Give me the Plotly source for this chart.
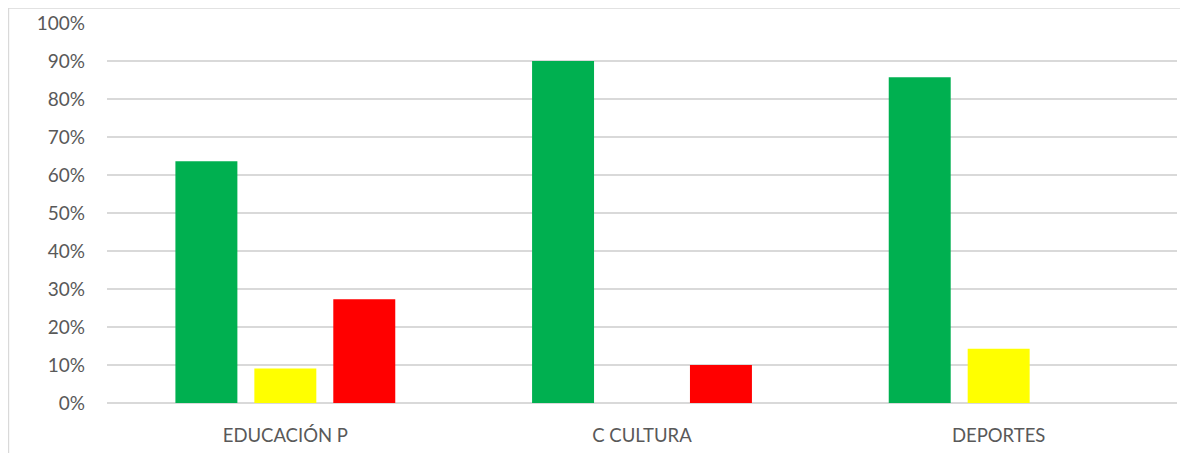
import plotly.graph_objects as go

categories = ["EDUCACIÓN P", "C CULTURA", "DEPORTES"]
verde = [0.636, 0.90, 0.857]
amarillo = [0.091, 0.0, 0.143]
rojo = [0.273, 0.10, 0.0]
y_ticks = [i / 10 for i in range(11)]
y_tick_labels = [f"{i*10}%" for i in range(11)]

fig = go.Figure()
for vals, col, name in [(verde, "#00B050", "Verde"), (amarillo, "#FFFF00", "Amarillo"), (rojo, "#FF0000", "Rojo")]:
    fig.add_trace(go.Bar(x=categories, y=vals, name=name, marker=dict(color=col, line=dict(width=0))))

fig.update_layout(
    width=1188, height=453,
    margin=dict(l=99, r=19, t=15, b=58),
    paper_bgcolor="white", plot_bgcolor="white",
    barmode="group", bargap=0.336, bargroupgap=0.215,
    showlegend=False,
    font=dict(family="Lato", size=19, color="#595959"),
    xaxis=dict(showgrid=False, showline=False, ticks="", ticklabelstandoff=19,
               automargin=False, tickfont=dict(size=18.5, color="#595959")),
    yaxis=dict(range=[0, 1], tickvals=y_ticks, ticktext=y_tick_labels,
               showgrid=True, gridcolor="#D9D9D9", gridwidth=1.5,
               zeroline=True, zerolinecolor="#D9D9D9", zerolinewidth=1.5,
               showline=False, ticks="", ticklabelstandoff=21, automargin=False,
               tickfont=dict(size=19, color="#595959")),
    shapes=[dict(type="rect", xref="paper", yref="paper",
                 x0=-0.0921, x1=1.2, y0=-0.3, y1=1.0395,
                 line=dict(color="#D9D9D9", width=1.5), fillcolor="rgba(0,0,0,0)", layer="below")],
)
fig.write_html("out.html")
